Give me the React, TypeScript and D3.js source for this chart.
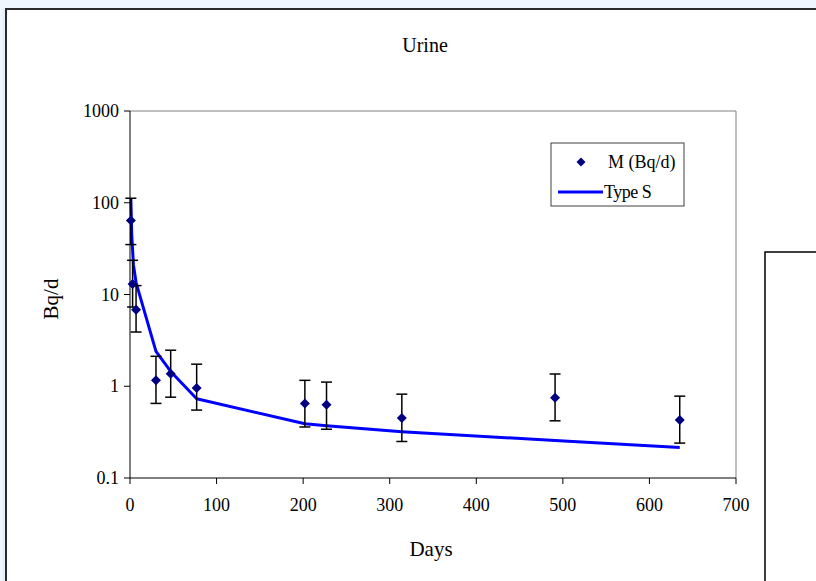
import React from "react";
import * as d3 from "d3";

const days = [1, 3, 7, 30, 47, 77, 202, 227, 314, 491, 635];
const measured = [64, 13, 6.8, 1.16, 1.37, 0.96, 0.65, 0.63, 0.45, 0.75, 0.43];
const errLow = [35, 7.3, 3.9, 0.65, 0.76, 0.55, 0.36, 0.34, 0.25, 0.42, 0.24];
const errHigh = [112, 23.6, 12.5, 2.12, 2.47, 1.74, 1.16, 1.11, 0.82, 1.36, 0.78];

const modelDays = [1, 2, 4, 7, 30, 47, 77, 202, 227, 314, 491, 635];
const modelValues = [110, 45, 21, 13.5, 2.4, 1.45, 0.73, 0.39, 0.37, 0.32, 0.256, 0.215];

const xTicks = [0, 100, 200, 300, 400, 500, 600, 700];
const yTicks = [0.1, 1, 10, 100, 1000];

const FONT = "'Liberation Serif', 'Times New Roman', serif";

export default function App() {
  const x = d3.scaleLinear().domain([0, 700]).range([130, 736]);
  const y = d3.scaleLog().domain([0.1, 1000]).range([478, 111]);

  const line = d3
    .line<number>()
    .x((_, i) => x(modelDays[i]))
    .y((v) => y(v));

  const diamond = (cx: number, cy: number, r: number) =>
    `M${cx},${cy - r}L${cx + r},${cy}L${cx},${cy + r}L${cx - r},${cy}Z`;

  return (
    <svg
      width={816}
      height={581}
      style={{ position: "absolute", left: 0, top: 0, display: "block" }}
    >
      <defs>
        <linearGradient id="edge" x1="0" x2="1" y1="0" y2="0">
          <stop offset="0" stopColor="#f2f8fe" />
          <stop offset="1" stopColor="#dcecfb" />
        </linearGradient>
      </defs>
      <rect x={0} y={0} width={816} height={581} fill="#eff6fd" />
      <rect x={0} y={9} width={6} height={572} fill="url(#edge)" />
      <rect x={6} y={9} width={840} height={620} fill="#ffffff" stroke="#2a2a2a" strokeWidth={2} />

      <text x={425} y={52} textAnchor="middle" fontFamily={FONT} fontSize={20}>
        Urine
      </text>

      {/* plot area border */}
      <line x1={130} x2={736} y1={111} y2={111} stroke="#808080" strokeWidth={1} />
      <line x1={736} x2={736} y1={111} y2={478} stroke="#808080" strokeWidth={1} />

      {/* axes */}
      <line x1={130} x2={130} y1={111} y2={478} stroke="#000" strokeWidth={1} />
      <line x1={130} x2={736} y1={478} y2={478} stroke="#000" strokeWidth={1} />
      {yTicks.map((t) => (
        <g key={"y" + t}>
          <line x1={124} x2={130} y1={y(t)} y2={y(t)} stroke="#000" strokeWidth={1} />
          <text
            x={119}
            y={y(t) + 6}
            textAnchor="end"
            fontFamily={FONT}
            fontSize={18}
          >
            {t}
          </text>
        </g>
      ))}
      {xTicks.map((t) => (
        <g key={"x" + t}>
          <line x1={x(t)} x2={x(t)} y1={478} y2={484} stroke="#000" strokeWidth={1} />
          <text x={x(t)} y={511} textAnchor="middle" fontFamily={FONT} fontSize={18}>
            {t}
          </text>
        </g>
      ))}

      <text
        transform={`translate(58,299) rotate(-90)`}
        textAnchor="middle"
        fontFamily={FONT}
        fontSize={21}
      >
        Bq/d
      </text>
      <text x={431} y={556} textAnchor="middle" fontFamily={FONT} fontSize={21}>
        Days
      </text>

      {/* model line */}
      <path d={line(modelValues) || ""} fill="none" stroke="#0000ff" strokeWidth={3} strokeLinejoin="round" />

      {/* error bars */}
      {days.map((d, i) => (
        <g key={"e" + i} stroke="#000" strokeWidth={1.5}>
          <line x1={x(d)} x2={x(d)} y1={y(errLow[i])} y2={y(errHigh[i])} />
          <line x1={x(d) - 5.5} x2={x(d) + 5.5} y1={y(errLow[i])} y2={y(errLow[i])} />
          <line x1={x(d) - 5.5} x2={x(d) + 5.5} y1={y(errHigh[i])} y2={y(errHigh[i])} />
        </g>
      ))}
      {days.map((d, i) => (
        <path key={"p" + i} d={diamond(x(d), y(measured[i]), 5)} fill="#000080" />
      ))}

      {/* legend */}
      <rect x={551} y={143} width={133} height={63} fill="#fff" stroke="#404040" strokeWidth={1} />
      <path d={diamond(581, 162, 4.5)} fill="#000080" />
      <text x={608} y={168} fontFamily={FONT} fontSize={18}>
        M (Bq/d)
      </text>
      <line x1={558} x2={603} y1={192} y2={192} stroke="#0000ff" strokeWidth={3} />
      <text x={604} y={198} fontFamily={FONT} fontSize={18} letterSpacing={-0.5}>
        Type S
      </text>

      {/* partial box at right */}
      <rect x={765} y={252} width={80} height={360} fill="#fff" stroke="#000" strokeWidth={1.5} />
    </svg>
  );
}
